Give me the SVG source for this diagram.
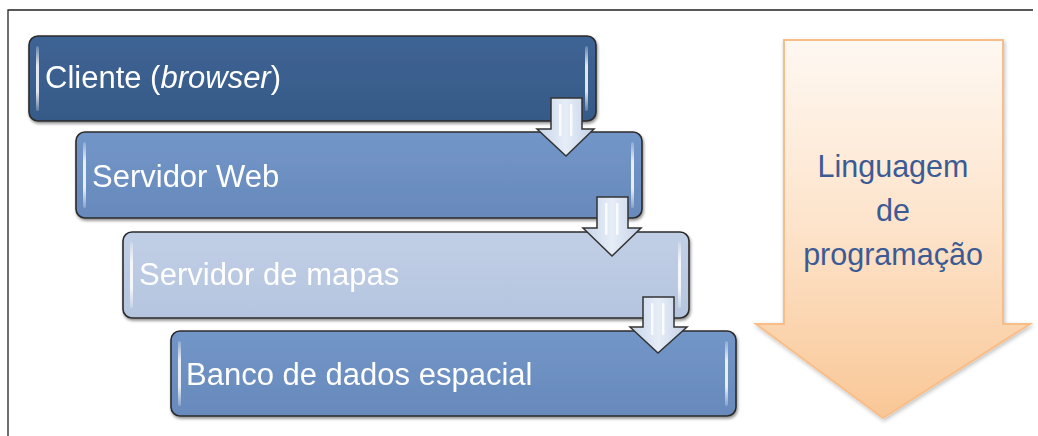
<svg xmlns="http://www.w3.org/2000/svg" width="1038" height="436" viewBox="0 0 1038 436">
<defs>
<linearGradient id="gB1" x1="0" y1="0" x2="0" y2="1"><stop offset="0" stop-color="#3E6495"/><stop offset="1" stop-color="#365A87"/></linearGradient>
<linearGradient id="gB2" x1="0" y1="0" x2="0" y2="1"><stop offset="0" stop-color="#7396C8"/><stop offset="1" stop-color="#6789BB"/></linearGradient>
<linearGradient id="gB3" x1="0" y1="0" x2="0" y2="1"><stop offset="0" stop-color="#C1CFE6"/><stop offset="1" stop-color="#B5C5DF"/></linearGradient>
<linearGradient id="gHi" x1="0" y1="0" x2="0" y2="1"><stop offset="0" stop-color="#FFFFFF" stop-opacity="0.2"/><stop offset="0.3" stop-color="#FFFFFF" stop-opacity="0.85"/><stop offset="0.7" stop-color="#FFFFFF" stop-opacity="0.85"/><stop offset="1" stop-color="#FFFFFF" stop-opacity="0.2"/></linearGradient>
<linearGradient id="gArr" x1="0" y1="0" x2="1" y2="0"><stop offset="0" stop-color="#C7D4E8"/><stop offset="0.5" stop-color="#E6EDF7"/><stop offset="1" stop-color="#C3D1E6"/></linearGradient>
<linearGradient id="gBig" x1="0" y1="0" x2="0" y2="1"><stop offset="0" stop-color="#FEF8F2"/><stop offset="0.5" stop-color="#FDE3CA"/><stop offset="1" stop-color="#F9C796"/></linearGradient>
<filter id="sh" x="-5%" y="-10%" width="110%" height="125%"><feGaussianBlur in="SourceAlpha" stdDeviation="1.5"/><feOffset dx="1" dy="2"/><feComponentTransfer><feFuncA type="linear" slope="0.45"/></feComponentTransfer><feMerge><feMergeNode/><feMergeNode in="SourceGraphic"/></feMerge></filter>
<filter id="shb" x="-10%" y="-5%" width="120%" height="115%"><feGaussianBlur in="SourceAlpha" stdDeviation="2"/><feOffset dx="1" dy="2"/><feComponentTransfer><feFuncA type="linear" slope="0.25"/></feComponentTransfer><feMerge><feMergeNode/><feMergeNode in="SourceGraphic"/></feMerge></filter>
</defs>
<style>
.box{stroke:#2B2B2B;stroke-width:1.6}
.hi{fill:url(#gHi)}
.lbl{font-family:"Liberation Sans",Arial,sans-serif;font-size:31px;fill:#FFFFFF}
.arr{fill:url(#gArr);stroke:#333333;stroke-width:1.5;stroke-linejoin:miter}
.gl{fill:#FFFFFF;opacity:0.8}
.big{font-family:"Liberation Sans",Arial,sans-serif;font-size:30.5px;fill:#3C5A94;text-anchor:middle}
</style>
<rect width="1038" height="436" fill="#FFFFFF"/>
<path d="M8,436 V10 H1033" fill="none" stroke="#222222" stroke-width="1.3"/>

<g id="linguagem">
<path d="M784,40 H1003 V324 H1030 L883,418 L756,324 H784 Z" fill="url(#gBig)" stroke="#F9BE88" stroke-width="2" filter="url(#shb)"/>
<text class="big" x="893" y="177">Linguagem</text>
<text class="big" x="893" y="221">de</text>
<text class="big" x="893" y="265">programação</text>
</g>

<g id="cliente" filter="url(#sh)">
<rect class="box" x="29" y="36" width="567" height="85" rx="9" fill="url(#gB1)"/>
<rect class="hi" x="36" y="46" width="3" height="65" rx="1.5"/>
<rect class="hi" x="585" y="46" width="3" height="65" rx="1.5"/>
<text class="lbl" x="45" y="88">Cliente (<tspan font-style="italic">browser</tspan>)</text>
</g>

<g id="servidor-web" filter="url(#sh)">
<rect class="box" x="76" y="132" width="566" height="86" rx="9" fill="url(#gB2)"/>
<rect class="hi" x="83" y="142" width="3" height="66" rx="1.5"/>
<rect class="hi" x="631" y="142" width="3" height="66" rx="1.5"/>
<text class="lbl" x="92" y="187">Servidor Web</text>
</g>

<g id="servidor-mapas" filter="url(#sh)">
<rect class="box" x="123" y="232" width="566" height="86" rx="9" fill="url(#gB3)"/>
<rect class="hi" x="130" y="242" width="3" height="66" rx="1.5"/>
<rect class="hi" x="678" y="242" width="3" height="66" rx="1.5"/>
<text class="lbl" x="139" y="285">Servidor de mapas</text>
</g>

<g id="banco" filter="url(#sh)">
<rect class="box" x="171" y="331" width="565" height="85" rx="9" fill="url(#gB2)"/>
<rect class="hi" x="178" y="341" width="3" height="65" rx="1.5"/>
<rect class="hi" x="725" y="341" width="3" height="65" rx="1.5"/>
<text class="lbl" x="186" y="385">Banco de dados espacial</text>
</g>

<g id="connectors">
<g>
<path class="arr" d="M551,98 H582 V129 H594 L566,156 L537,129 H551 Z"/>
<rect class="gl" x="559" y="104" width="2.5" height="32" rx="1"/>
<rect class="gl" x="570" y="104" width="2.5" height="32" rx="1"/>
</g>
<g>
<path class="arr" d="M597,197 H628 V228 H641 L612,256 L583,228 H597 Z"/>
<rect class="gl" x="605" y="203" width="2.5" height="32" rx="1"/>
<rect class="gl" x="616" y="203" width="2.5" height="32" rx="1"/>
</g>
<g>
<path class="arr" d="M643,297 H674 V327 H687 L658,353 L630,327 H643 Z"/>
<rect class="gl" x="651" y="303" width="2.5" height="32" rx="1"/>
<rect class="gl" x="662" y="303" width="2.5" height="32" rx="1"/>
</g>
</g>
</svg>
